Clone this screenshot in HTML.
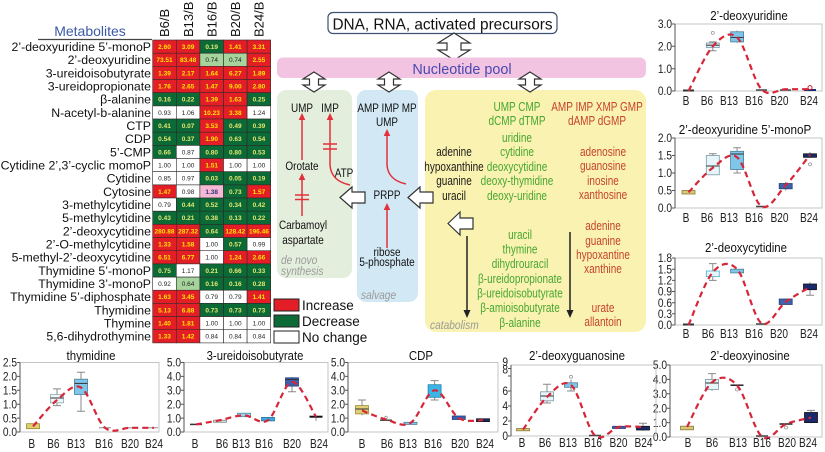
<!DOCTYPE html>
<html><head><meta charset="utf-8">
<style>
body{margin:0;background:#fff}
svg{display:block}
text{font-family:"Liberation Sans",Arial,sans-serif}
.lb{font-size:12.3px;text-anchor:end;fill:#111}
.ch{font-size:13px;fill:#111}
.cv{font-size:6.5px;font-weight:bold;text-anchor:middle}
.R{fill:#e41e26;stroke:#3a2a2a;stroke-width:.6}
.G{fill:#0b6a36;stroke:#2a2a2a;stroke-width:.6}
.L{fill:#a6d49c;stroke:#2a2a2a;stroke-width:.6}
.P{fill:#f6b9d4;stroke:#2a2a2a;stroke-width:.6}
.W{fill:#fff;stroke:#2a2a2a;stroke-width:.6}
.r{fill:#ffe600}.g{fill:#e6e870}.k{fill:#222;font-weight:normal}.p{fill:#3b2e80}
.fr{fill:none;stroke:#c4c4c4;stroke-width:1}
.ax{fill:none;stroke:#555;stroke-width:1}
.tk{font-size:12px;text-anchor:end;fill:#222}
.xl{font-size:13px;text-anchor:middle;fill:#222}
.tt{font-size:13px;text-anchor:middle;fill:#111}
.crv{fill:none;stroke:#d62638;stroke-width:2.2;stroke-dasharray:6 4}
.wk{stroke:#888;stroke-width:1;fill:none}
.bx{stroke-width:.8}
.md{stroke:#333;stroke-width:1}
.ds{stroke:#444;stroke-width:1.5}
.ou{fill:none;stroke:#999;stroke-width:.8}
.pt{font-size:12px;text-anchor:middle;fill:#111}
.yt{font-size:12.5px;text-anchor:middle}
.gr{fill:#46a733}.rd{fill:#c6432b}.bk{fill:#1a1a1a}
.it{font-size:12px;font-style:italic;fill:#9a9a9a}
.ra{stroke:#e2303c;stroke-width:1.5;fill:none}
.rh{fill:#e2303c}
.ba{fill:#fff;stroke:#333;stroke-width:1.2}
.lg{font-size:13.5px;fill:#111}
</style></head><body>
<svg width="825" height="452" viewBox="0 0 825 452" xmlns="http://www.w3.org/2000/svg">
<rect width="825" height="452" fill="#fff"/>

<!-- ========== HEATMAP ========== -->
<text x="90" y="36" font-size="14" text-anchor="middle" fill="#3a5aa5">Metabolites</text>
<line x1="38" y1="39.5" x2="152" y2="39.5" stroke="#444" stroke-width="1.2"/>
<text class="ch" transform="translate(169.2,37) rotate(-90)">B6/B</text>
<text class="ch" transform="translate(192.8,37) rotate(-90)">B13/B</text>
<text class="ch" transform="translate(216.4,37) rotate(-90)">B16/B</text>
<text class="ch" transform="translate(240,37) rotate(-90)">B20/B</text>
<text class="ch" transform="translate(263.6,37) rotate(-90)">B24/B</text>

<g transform="translate(0,40)"><text x="151" y="11" class="lb">2’-deoxyuridine 5’-monoP</text>
<rect x="152.7" width="23.6" height="13.2" class="R"/><rect x="176.3" width="23.6" height="13.2" class="R"/><rect x="199.9" width="23.6" height="13.2" class="G"/><rect x="223.5" width="23.6" height="13.2" class="R"/><rect x="247.1" width="23.6" height="13.2" class="R"/>
<text x="164.5" y="9" class="cv r">2.60</text><text x="188.1" y="9" class="cv r">3.09</text><text x="211.7" y="9" class="cv g">0.19</text><text x="235.3" y="9" class="cv r">1.41</text><text x="258.9" y="9" class="cv r">3.31</text></g>

<g transform="translate(0,53.2)"><text x="151" y="11" class="lb">2’-deoxyuridine</text>
<rect x="152.7" width="23.6" height="13.2" class="R"/><rect x="176.3" width="23.6" height="13.2" class="R"/><rect x="199.9" width="23.6" height="13.2" class="L"/><rect x="223.5" width="23.6" height="13.2" class="L"/><rect x="247.1" width="23.6" height="13.2" class="R"/>
<text x="164.5" y="9" class="cv r">73.51</text><text x="188.1" y="9" class="cv r">83.48</text><text x="211.7" y="9" class="cv k">0.74</text><text x="235.3" y="9" class="cv k">0.74</text><text x="258.9" y="9" class="cv r">2.55</text></g>

<g transform="translate(0,66.3)"><text x="151" y="11" class="lb">3-ureidoisobutyrate</text>
<rect x="152.7" width="23.6" height="13.2" class="R"/><rect x="176.3" width="23.6" height="13.2" class="R"/><rect x="199.9" width="23.6" height="13.2" class="R"/><rect x="223.5" width="23.6" height="13.2" class="R"/><rect x="247.1" width="23.6" height="13.2" class="R"/>
<text x="164.5" y="9" class="cv r">1.39</text><text x="188.1" y="9" class="cv r">2.17</text><text x="211.7" y="9" class="cv r">1.64</text><text x="235.3" y="9" class="cv r">6.27</text><text x="258.9" y="9" class="cv r">1.89</text></g>

<g transform="translate(0,79.5)"><text x="151" y="11" class="lb">3-ureidopropionate</text>
<rect x="152.7" width="23.6" height="13.2" class="R"/><rect x="176.3" width="23.6" height="13.2" class="R"/><rect x="199.9" width="23.6" height="13.2" class="R"/><rect x="223.5" width="23.6" height="13.2" class="R"/><rect x="247.1" width="23.6" height="13.2" class="R"/>
<text x="164.5" y="9" class="cv r">1.76</text><text x="188.1" y="9" class="cv r">2.65</text><text x="211.7" y="9" class="cv r">1.47</text><text x="235.3" y="9" class="cv r">9.00</text><text x="258.9" y="9" class="cv r">2.80</text></g>

<g transform="translate(0,92.7)"><text x="151" y="11" class="lb">β-alanine</text>
<rect x="152.7" width="23.6" height="13.2" class="G"/><rect x="176.3" width="23.6" height="13.2" class="G"/><rect x="199.9" width="23.6" height="13.2" class="R"/><rect x="223.5" width="23.6" height="13.2" class="R"/><rect x="247.1" width="23.6" height="13.2" class="G"/>
<text x="164.5" y="9" class="cv g">0.16</text><text x="188.1" y="9" class="cv g">0.22</text><text x="211.7" y="9" class="cv r">1.39</text><text x="235.3" y="9" class="cv r">1.63</text><text x="258.9" y="9" class="cv g">0.25</text></g>

<g transform="translate(0,105.9)"><text x="151" y="11" class="lb">N-acetyl-b-alanine</text>
<rect x="152.7" width="23.6" height="13.2" class="W"/><rect x="176.3" width="23.6" height="13.2" class="W"/><rect x="199.9" width="23.6" height="13.2" class="R"/><rect x="223.5" width="23.6" height="13.2" class="R"/><rect x="247.1" width="23.6" height="13.2" class="W"/>
<text x="164.5" y="9" class="cv k">0.93</text><text x="188.1" y="9" class="cv k">1.06</text><text x="211.7" y="9" class="cv r">10.23</text><text x="235.3" y="9" class="cv r">3.38</text><text x="258.9" y="9" class="cv k">1.24</text></g>

<g transform="translate(0,119)"><text x="151" y="11" class="lb">CTP</text>
<rect x="152.7" width="23.6" height="13.2" class="G"/><rect x="176.3" width="23.6" height="13.2" class="G"/><rect x="199.9" width="23.6" height="13.2" class="R"/><rect x="223.5" width="23.6" height="13.2" class="G"/><rect x="247.1" width="23.6" height="13.2" class="G"/>
<text x="164.5" y="9" class="cv g">0.41</text><text x="188.1" y="9" class="cv g">0.07</text><text x="211.7" y="9" class="cv r">3.53</text><text x="235.3" y="9" class="cv g">0.49</text><text x="258.9" y="9" class="cv g">0.39</text></g>

<g transform="translate(0,132.2)"><text x="151" y="11" class="lb">CDP</text>
<rect x="152.7" width="23.6" height="13.2" class="G"/><rect x="176.3" width="23.6" height="13.2" class="G"/><rect x="199.9" width="23.6" height="13.2" class="R"/><rect x="223.5" width="23.6" height="13.2" class="G"/><rect x="247.1" width="23.6" height="13.2" class="G"/>
<text x="164.5" y="9" class="cv g">0.54</text><text x="188.1" y="9" class="cv g">0.37</text><text x="211.7" y="9" class="cv r">1.90</text><text x="235.3" y="9" class="cv g">0.63</text><text x="258.9" y="9" class="cv g">0.54</text></g>

<g transform="translate(0,145.4)"><text x="151" y="11" class="lb">5’-CMP</text>
<rect x="152.7" width="23.6" height="13.2" class="G"/><rect x="176.3" width="23.6" height="13.2" class="W"/><rect x="199.9" width="23.6" height="13.2" class="G"/><rect x="223.5" width="23.6" height="13.2" class="G"/><rect x="247.1" width="23.6" height="13.2" class="G"/>
<text x="164.5" y="9" class="cv g">0.66</text><text x="188.1" y="9" class="cv k">0.87</text><text x="211.7" y="9" class="cv g">0.80</text><text x="235.3" y="9" class="cv g">0.80</text><text x="258.9" y="9" class="cv g">0.53</text></g>

<g transform="translate(0,158.5)"><text x="151" y="11" class="lb">Cytidine 2’,3’-cyclic momoP</text>
<rect x="152.7" width="23.6" height="13.2" class="W"/><rect x="176.3" width="23.6" height="13.2" class="W"/><rect x="199.9" width="23.6" height="13.2" class="R"/><rect x="223.5" width="23.6" height="13.2" class="W"/><rect x="247.1" width="23.6" height="13.2" class="W"/>
<text x="164.5" y="9" class="cv k">1.00</text><text x="188.1" y="9" class="cv k">1.00</text><text x="211.7" y="9" class="cv r">1.51</text><text x="235.3" y="9" class="cv k">1.00</text><text x="258.9" y="9" class="cv k">1.00</text></g>

<g transform="translate(0,171.7)"><text x="151" y="11" class="lb">Cytidine</text>
<rect x="152.7" width="23.6" height="13.2" class="W"/><rect x="176.3" width="23.6" height="13.2" class="W"/><rect x="199.9" width="23.6" height="13.2" class="G"/><rect x="223.5" width="23.6" height="13.2" class="G"/><rect x="247.1" width="23.6" height="13.2" class="G"/>
<text x="164.5" y="9" class="cv k">0.85</text><text x="188.1" y="9" class="cv k">0.97</text><text x="211.7" y="9" class="cv g">0.03</text><text x="235.3" y="9" class="cv g">0.05</text><text x="258.9" y="9" class="cv g">0.19</text></g>

<g transform="translate(0,184.9)"><text x="151" y="11" class="lb">Cytosine</text>
<rect x="152.7" width="23.6" height="13.2" class="R"/><rect x="176.3" width="23.6" height="13.2" class="W"/><rect x="199.9" width="23.6" height="13.2" class="P"/><rect x="223.5" width="23.6" height="13.2" class="G"/><rect x="247.1" width="23.6" height="13.2" class="R"/>
<text x="164.5" y="9" class="cv r">1.47</text><text x="188.1" y="9" class="cv k">0.98</text><text x="211.7" y="9" class="cv p">1.38</text><text x="235.3" y="9" class="cv g">0.73</text><text x="258.9" y="9" class="cv r">1.57</text></g>

<g transform="translate(0,198)"><text x="151" y="11" class="lb">3-methylcytidine</text>
<rect x="152.7" width="23.6" height="13.2" class="W"/><rect x="176.3" width="23.6" height="13.2" class="G"/><rect x="199.9" width="23.6" height="13.2" class="G"/><rect x="223.5" width="23.6" height="13.2" class="G"/><rect x="247.1" width="23.6" height="13.2" class="G"/>
<text x="164.5" y="9" class="cv k">0.79</text><text x="188.1" y="9" class="cv g">0.44</text><text x="211.7" y="9" class="cv g">0.52</text><text x="235.3" y="9" class="cv g">0.34</text><text x="258.9" y="9" class="cv g">0.42</text></g>

<g transform="translate(0,211.2)"><text x="151" y="11" class="lb">5-methylcytidine</text>
<rect x="152.7" width="23.6" height="13.2" class="G"/><rect x="176.3" width="23.6" height="13.2" class="G"/><rect x="199.9" width="23.6" height="13.2" class="G"/><rect x="223.5" width="23.6" height="13.2" class="G"/><rect x="247.1" width="23.6" height="13.2" class="G"/>
<text x="164.5" y="9" class="cv g">0.43</text><text x="188.1" y="9" class="cv g">0.21</text><text x="211.7" y="9" class="cv g">0.38</text><text x="235.3" y="9" class="cv g">0.13</text><text x="258.9" y="9" class="cv g">0.22</text></g>

<g transform="translate(0,224.4)"><text x="151" y="11" class="lb">2’-deoxycytidine</text>
<rect x="152.7" width="23.6" height="13.2" class="R"/><rect x="176.3" width="23.6" height="13.2" class="R"/><rect x="199.9" width="23.6" height="13.2" class="G"/><rect x="223.5" width="23.6" height="13.2" class="R"/><rect x="247.1" width="23.6" height="13.2" class="R"/>
<text x="164.5" y="9" class="cv r">280.88</text><text x="188.1" y="9" class="cv r">287.32</text><text x="211.7" y="9" class="cv g">0.64</text><text x="235.3" y="9" class="cv r">128.42</text><text x="258.9" y="9" class="cv r">196.46</text></g>

<g transform="translate(0,237.6)"><text x="151" y="11" class="lb">2’-O-methylcytidine</text>
<rect x="152.7" width="23.6" height="13.2" class="R"/><rect x="176.3" width="23.6" height="13.2" class="R"/><rect x="199.9" width="23.6" height="13.2" class="W"/><rect x="223.5" width="23.6" height="13.2" class="G"/><rect x="247.1" width="23.6" height="13.2" class="W"/>
<text x="164.5" y="9" class="cv r">1.33</text><text x="188.1" y="9" class="cv r">1.58</text><text x="211.7" y="9" class="cv k">1.00</text><text x="235.3" y="9" class="cv g">0.57</text><text x="258.9" y="9" class="cv k">0.99</text></g>

<g transform="translate(0,250.7)"><text x="151" y="11" class="lb">5-methyl-2’-deoxycytidine</text>
<rect x="152.7" width="23.6" height="13.2" class="R"/><rect x="176.3" width="23.6" height="13.2" class="R"/><rect x="199.9" width="23.6" height="13.2" class="W"/><rect x="223.5" width="23.6" height="13.2" class="R"/><rect x="247.1" width="23.6" height="13.2" class="R"/>
<text x="164.5" y="9" class="cv r">6.51</text><text x="188.1" y="9" class="cv r">6.77</text><text x="211.7" y="9" class="cv k">1.00</text><text x="235.3" y="9" class="cv r">1.24</text><text x="258.9" y="9" class="cv r">2.66</text></g>

<g transform="translate(0,263.9)"><text x="151" y="11" class="lb">Thymidine 5’-monoP</text>
<rect x="152.7" width="23.6" height="13.2" class="G"/><rect x="176.3" width="23.6" height="13.2" class="W"/><rect x="199.9" width="23.6" height="13.2" class="G"/><rect x="223.5" width="23.6" height="13.2" class="G"/><rect x="247.1" width="23.6" height="13.2" class="G"/>
<text x="164.5" y="9" class="cv g">0.75</text><text x="188.1" y="9" class="cv k">1.17</text><text x="211.7" y="9" class="cv g">0.21</text><text x="235.3" y="9" class="cv g">0.66</text><text x="258.9" y="9" class="cv g">0.33</text></g>

<g transform="translate(0,277.1)"><text x="151" y="11" class="lb">Thymidine 3’-monoP</text>
<rect x="152.7" width="23.6" height="13.2" class="W"/><rect x="176.3" width="23.6" height="13.2" class="L"/><rect x="199.9" width="23.6" height="13.2" class="G"/><rect x="223.5" width="23.6" height="13.2" class="G"/><rect x="247.1" width="23.6" height="13.2" class="G"/>
<text x="164.5" y="9" class="cv k">0.92</text><text x="188.1" y="9" class="cv k">0.64</text><text x="211.7" y="9" class="cv g">0.16</text><text x="235.3" y="9" class="cv g">0.16</text><text x="258.9" y="9" class="cv g">0.28</text></g>

<g transform="translate(0,290.2)"><text x="151" y="11" class="lb">Thymidine 5’-diphosphate</text>
<rect x="152.7" width="23.6" height="13.2" class="R"/><rect x="176.3" width="23.6" height="13.2" class="R"/><rect x="199.9" width="23.6" height="13.2" class="W"/><rect x="223.5" width="23.6" height="13.2" class="W"/><rect x="247.1" width="23.6" height="13.2" class="R"/>
<text x="164.5" y="9" class="cv r">1.63</text><text x="188.1" y="9" class="cv r">3.45</text><text x="211.7" y="9" class="cv k">0.79</text><text x="235.3" y="9" class="cv k">0.79</text><text x="258.9" y="9" class="cv r">1.41</text></g>

<g transform="translate(0,303.4)"><text x="151" y="11" class="lb">Thymidine</text>
<rect x="152.7" width="23.6" height="13.2" class="R"/><rect x="176.3" width="23.6" height="13.2" class="R"/><rect x="199.9" width="23.6" height="13.2" class="G"/><rect x="223.5" width="23.6" height="13.2" class="G"/><rect x="247.1" width="23.6" height="13.2" class="G"/>
<text x="164.5" y="9" class="cv r">5.13</text><text x="188.1" y="9" class="cv r">6.88</text><text x="211.7" y="9" class="cv g">0.73</text><text x="235.3" y="9" class="cv g">0.73</text><text x="258.9" y="9" class="cv g">0.73</text></g>

<g transform="translate(0,316.6)"><text x="151" y="11" class="lb">Thymine</text>
<rect x="152.7" width="23.6" height="13.2" class="R"/><rect x="176.3" width="23.6" height="13.2" class="R"/><rect x="199.9" width="23.6" height="13.2" class="W"/><rect x="223.5" width="23.6" height="13.2" class="W"/><rect x="247.1" width="23.6" height="13.2" class="W"/>
<text x="164.5" y="9" class="cv r">1.40</text><text x="188.1" y="9" class="cv r">1.81</text><text x="211.7" y="9" class="cv k">1.00</text><text x="235.3" y="9" class="cv k">1.00</text><text x="258.9" y="9" class="cv k">1.00</text></g>

<g transform="translate(0,329.7)"><text x="151" y="11" class="lb">5,6-dihydrothymine</text>
<rect x="152.7" width="23.6" height="13.2" class="R"/><rect x="176.3" width="23.6" height="13.2" class="R"/><rect x="199.9" width="23.6" height="13.2" class="W"/><rect x="223.5" width="23.6" height="13.2" class="W"/><rect x="247.1" width="23.6" height="13.2" class="W"/>
<text x="164.5" y="9" class="cv r">1.33</text><text x="188.1" y="9" class="cv r">1.42</text><text x="211.7" y="9" class="cv k">0.84</text><text x="235.3" y="9" class="cv k">0.84</text><text x="258.9" y="9" class="cv k">0.84</text></g>

<!-- legend -->
<rect x="274" y="299" width="25" height="12" fill="#e41e26" stroke="#222" stroke-width="1"/>
<rect x="274" y="315" width="25" height="12" fill="#0b6a36" stroke="#222" stroke-width="1"/>
<rect x="274" y="331" width="25" height="12" fill="#fff" stroke="#222" stroke-width="1"/>
<text x="302" y="310" class="lg">Increase</text>
<text x="302" y="326" class="lg">Decrease</text>
<text x="302" y="342" class="lg">No change</text>

<!-- ========== PATHWAY DIAGRAM ========== -->
<rect x="328" y="12.5" width="229" height="21" rx="5" fill="#fff" stroke="#3c5070" stroke-width="1.2"/>
<text transform="translate(442.5,29.5) scale(.96,1)" font-size="16" text-anchor="middle" fill="#111">DNA, RNA, activated precursors</text>
<path class="ba" d="M454,33 L470,43 L461,43 L461,50 L470,50 L454,60 L438,50 L447,50 L447,43 L438,43 Z"/>
<rect x="277" y="57.5" width="369" height="20.5" rx="6" fill="#f2c4e2"/>
<text transform="translate(462,74) scale(.96,1)" font-size="15" text-anchor="middle" fill="#4a48b0">Nucleotide pool</text>

<rect x="277" y="90" width="75" height="188" rx="9" fill="#e4eedd"/>
<rect x="357" y="90" width="61" height="212" rx="9" fill="#d2e9f5"/>
<rect x="425" y="90" width="221" height="242" rx="11" fill="#faf2b0"/>

<path class="ba" d="M314,72 L325,79 L318.5,79 L318.5,85 L325,85 L314,92 L303,85 L309.5,85 L309.5,79 L303,79Z"/>
<path class="ba" d="M389,72 L400,79 L393.5,79 L393.5,85 L400,85 L389,92 L378,85 L384.5,85 L384.5,79 L378,79Z"/>
<path class="ba" d="M530,72 L541,79 L534.5,79 L534.5,85 L541,85 L530,92 L519,85 L525.5,85 L525.5,79 L519,79Z"/>

<!-- green panel -->
<text class="pt" transform="translate(302,112) scale(.83,1)">UMP</text>
<text class="pt" transform="translate(330,112) scale(.83,1)">IMP</text>
<text class="pt" transform="translate(302,170) scale(.83,1)">Orotate</text>
<text class="pt" transform="translate(344,177) scale(.83,1)">ATP</text>
<text class="pt" transform="translate(303,229) scale(.83,1)">Carbamoyl</text>
<text class="pt" transform="translate(303,244) scale(.83,1)">aspartate</text>
<text class="it" transform="translate(281,264) scale(.85,1)">de novo</text>
<text class="it" transform="translate(281,275) scale(.85,1)">synthesis</text>
<line class="ra" x1="302" y1="160" x2="302" y2="118"/><polygon class="rh" points="302,113 298.7,120 305.3,120"/>
<line class="ra" x1="302" y1="216" x2="302" y2="178"/><polygon class="rh" points="302,173 298.7,180 305.3,180"/>
<path class="ra" d="M295,195H309M295,199.5H309"/>
<path class="ra" d="M350,185 Q331,181 330,165 L330,118"/><polygon class="rh" points="330,113 326.7,120 333.3,120"/>
<path class="ra" d="M323,144H337M323,149H337"/>

<!-- blue panel -->
<text class="pt" transform="translate(387,112) scale(.83,1)">AMP IMP MP</text>
<text class="pt" transform="translate(387,126) scale(.83,1)">UMP</text>
<text class="pt" transform="translate(387,199) scale(.83,1)">PRPP</text>
<text class="pt" transform="translate(387,256) scale(.83,1)">ribose</text>
<text class="pt" transform="translate(387,266) scale(.83,1)">5-phosphate</text>
<text class="it" transform="translate(361,299) scale(.85,1)">salvage</text>
<path class="ra" d="M406,184 Q388,180 387,165 L387,134"/><polygon class="rh" points="387,129 383.7,136 390.3,136"/>
<line class="ra" x1="387" y1="248" x2="387" y2="208"/><polygon class="rh" points="387,203 383.7,210 390.3,210"/>

<path class="ba" d="M340,197.5 L352,187 L352,192 L365,192 L365,203 L352,203 L352,208 Z"/>
<path class="ba" d="M408,197.5 L420,187 L420,192 L433,192 L433,203 L420,203 L420,208 Z"/>
<path class="ba" d="M448,223.5 L460,212 L460,218 L473,218 L473,229 L460,229 L460,235 Z"/>

<!-- yellow panel -->
<g class="yt">
<text class="gr" transform="translate(517,111) scale(.8,1)">UMP CMP</text>
<text class="gr" transform="translate(517,125) scale(.8,1)">dCMP dTMP</text>
<text class="rd" transform="translate(597,111) scale(.8,1)">AMP IMP XMP GMP</text>
<text class="rd" transform="translate(597,125) scale(.8,1)">dAMP dGMP</text>
<text class="gr" transform="translate(517,142) scale(.8,1)">uridine</text>
<text class="gr" transform="translate(517,156) scale(.8,1)">cytidine</text>
<text class="gr" transform="translate(517,171) scale(.8,1)">deoxycytidine</text>
<text class="gr" transform="translate(517,185) scale(.8,1)">deoxy-thymidine</text>
<text class="gr" transform="translate(517,200) scale(.8,1)">deoxy-uridine</text>
<text class="bk" transform="translate(454,156) scale(.8,1)">adenine</text>
<text class="bk" transform="translate(454,171) scale(.8,1)">hypoxanthine</text>
<text class="bk" transform="translate(454,185) scale(.8,1)">guanine</text>
<text class="bk" transform="translate(454,200) scale(.8,1)">uracil</text>
<text class="rd" transform="translate(603,156) scale(.8,1)">adenosine</text>
<text class="rd" transform="translate(603,170) scale(.8,1)">guanosine</text>
<text class="rd" transform="translate(603,185) scale(.8,1)">inosine</text>
<text class="rd" transform="translate(603,199) scale(.8,1)">xanthosine</text>
<text class="gr" transform="translate(520,239) scale(.8,1)">uracil</text>
<text class="gr" transform="translate(520,253.5) scale(.8,1)">thymine</text>
<text class="gr" transform="translate(520,268) scale(.8,1)">dihydrouracil</text>
<text class="gr" transform="translate(520,283) scale(.8,1)">β-ureidopropionate</text>
<text class="gr" transform="translate(520,297.5) scale(.8,1)">β-ureidoisobutyrate</text>
<text class="gr" transform="translate(520,312) scale(.8,1)">β-amioisobutyrate</text>
<text class="gr" transform="translate(520,327) scale(.8,1)">β-alanine</text>
<text class="rd" transform="translate(603,230) scale(.8,1)">adenine</text>
<text class="rd" transform="translate(603,245) scale(.8,1)">guanine</text>
<text class="rd" transform="translate(603,259) scale(.8,1)">hypoxantine</text>
<text class="rd" transform="translate(603,273) scale(.8,1)">xanthine</text>
<text class="rd" transform="translate(603,312) scale(.8,1)">urate</text>
<text class="rd" transform="translate(603,326) scale(.8,1)">allantoin</text>
</g>
<text class="it" transform="translate(430,329) scale(.85,1)">catabolism</text>
<line x1="467" y1="236" x2="467" y2="312" stroke="#222" stroke-width="1.5"/><polygon points="467,318 463.5,310 470.5,310" fill="#222"/>
<line x1="570" y1="232" x2="570" y2="312" stroke="#222" stroke-width="1.5"/><polygon points="570,318 566.5,310 573.5,310" fill="#222"/>

<!-- ========== PLOT R1: 2'-deoxyuridine ========== -->
<text class="tt" transform="translate(749,20) scale(.88,1)">2’-deoxyuridine</text>
<rect x="675" y="24" width="147" height="67" class="fr"/>
<path class="ax" d="M675,24V91M672,24h3M672,46.3h3M672,68.7h3M672,91h3"/>
<text class="tk" transform="translate(672,28.2) scale(.85,1)">3.0</text>
<text class="tk" transform="translate(672,50.5) scale(.85,1)">2.0</text>
<text class="tk" transform="translate(672,72.9) scale(.85,1)">1.0</text>
<text class="tk" transform="translate(672,95.2) scale(.85,1)">0.0</text>
<line x1="683" y1="90.5" x2="694" y2="90.5" stroke="#333" stroke-width="2"/>
<path class="wk" d="M712.8,41.9V50.8M709,41.9h7.6M709,50.8h7.6"/>
<rect class="bx" x="706.3" y="43" width="13" height="4.5" fill="#d9eef6" stroke="#7a9aa8"/>
<line class="md" x1="706.3" y1="45.2" x2="719.3" y2="45.2"/>
<circle class="ou" cx="712.8" cy="32.9" r="1.5"/>
<path class="wk" d="M737.1,30.5V42.8"/>
<rect class="bx" x="730.6" y="31.8" width="13" height="10.1" fill="#7fc7ea" stroke="#4a7f9a"/>
<line class="md" x1="730.6" y1="37.4" x2="743.6" y2="37.4"/>
<line class="ds" x1="756" y1="90" x2="767" y2="90"/>
<line class="ds" x1="780" y1="90" x2="791" y2="90"/>
<rect x="804" y="89" width="12" height="2" fill="#1b2a6b"/>
<circle cx="810" cy="87.6" r="2" fill="none" stroke="#d62638" stroke-width="1"/>
<polyline class="crv" points="688.5,91 712.8,46.3 737.1,37.4 761.4,89.2 785.7,89.2 810,89.2"/>
<g class="xl">
<text transform="translate(686,105) scale(.78,1)">B</text>
<text transform="translate(707,105) scale(.78,1)">B6</text>
<text transform="translate(729,105) scale(.78,1)">B13</text>
<text transform="translate(754,105) scale(.78,1)">B16</text>
<text transform="translate(779.5,105) scale(.78,1)">B20</text>
<text transform="translate(809,105) scale(.78,1)">B24</text>
</g>

<!-- ========== PLOT R2: 2'-deoxyuridine 5'-monoP ========== -->
<text class="tt" transform="translate(745,134) scale(.9,1)">2’-deoxyuridine 5’-monoP</text>
<rect x="675" y="138" width="147" height="70" class="fr"/>
<path class="ax" d="M675,138V208M672,138h3M672,155.5h3M672,173h3M672,190.5h3M672,208h3"/>
<text class="tk" transform="translate(672,142.2) scale(.85,1)">2.0</text>
<text class="tk" transform="translate(672,159.7) scale(.85,1)">1.5</text>
<text class="tk" transform="translate(672,177.2) scale(.85,1)">1.0</text>
<text class="tk" transform="translate(672,194.7) scale(.85,1)">0.5</text>
<text class="tk" transform="translate(672,212.2) scale(.85,1)">0.0</text>
<rect class="bx" x="682" y="190.5" width="13" height="3.5" fill="#d9c77a" stroke="#8a7a30"/>
<path class="wk" d="M712.8,153.8V174.8M709,153.8h7.6"/>
<rect class="bx" x="706.3" y="155.5" width="13" height="19.3" fill="#e6f5f9" stroke="#7a9aa8"/>
<line class="md" x1="706.3" y1="166" x2="719.3" y2="166"/>
<path class="wk" d="M737.1,147.8V173M733.3,147.8h7.6M733.3,173h7.6"/>
<rect class="bx" x="730.6" y="151.3" width="13" height="18.2" fill="#7fc7ea" stroke="#4a7f9a"/>
<line class="md" x1="730.6" y1="154" x2="743.6" y2="154"/>
<line class="ds" x1="756" y1="206.5" x2="767" y2="206.5"/>
<path class="wk" d="M785.7,181.8V190.5"/>
<rect class="bx" x="779.2" y="183.5" width="13" height="5.3" fill="#3d62b0" stroke="#2a4070"/>
<path class="wk" d="M810,152V158"/>
<rect class="bx" x="803.5" y="153.8" width="13" height="3.5" fill="#1b2a6b" stroke="#111"/>
<circle class="ou" cx="810" cy="164.3" r="1.5"/>
<polyline class="crv" points="688.5,192.3 712.8,167.8 737.1,157.3 761.4,206.3 785.7,185.3 810,154.8"/>
<g class="xl">
<text transform="translate(686,222) scale(.78,1)">B</text>
<text transform="translate(707,222) scale(.78,1)">B6</text>
<text transform="translate(729,222) scale(.78,1)">B13</text>
<text transform="translate(754,222) scale(.78,1)">B16</text>
<text transform="translate(779.5,222) scale(.78,1)">B20</text>
<text transform="translate(809,222) scale(.78,1)">B24</text>
</g>

<!-- ========== PLOT R3: 2'-deoxycytidine ========== -->
<text class="tt" transform="translate(746,252) scale(.88,1)">2’-deoxycytidine</text>
<rect x="675" y="258" width="147" height="67" class="fr"/>
<path class="ax" d="M675,258V325M672,258h3M672,269.2h3M672,280.4h3M672,291.5h3M672,302.7h3M672,313.8h3M672,325h3"/>
<text class="tk" transform="translate(672,262.2) scale(.85,1)">1.8</text>
<text class="tk" transform="translate(672,273.4) scale(.85,1)">1.5</text>
<text class="tk" transform="translate(672,284.6) scale(.85,1)">1.2</text>
<text class="tk" transform="translate(672,295.7) scale(.85,1)">0.9</text>
<text class="tk" transform="translate(672,306.9) scale(.85,1)">0.6</text>
<text class="tk" transform="translate(672,318) scale(.85,1)">0.3</text>
<text class="tk" transform="translate(672,329.2) scale(.85,1)">0.0</text>
<line x1="683" y1="324.5" x2="694" y2="324.5" stroke="#333" stroke-width="2"/>
<path class="wk" d="M712.8,263.6V280.4M709,263.6h7.6M709,280.4h7.6"/>
<rect class="bx" x="706.3" y="271" width="13" height="5.6" fill="#e6f5f9" stroke="#4ab0d0"/>
<rect class="bx" x="730.6" y="269.2" width="13" height="3.7" fill="#7fc7ea" stroke="#4a7f9a"/>
<line class="ds" x1="756" y1="324" x2="767" y2="324"/>
<rect class="bx" x="779.2" y="299" width="13" height="5.5" fill="#3d62b0" stroke="#2a4070"/>
<path class="wk" d="M810,282.2V295.2M806,295.2h8"/>
<rect class="bx" x="803.5" y="284" width="13" height="5.7" fill="#1b2a6b" stroke="#111"/>
<polyline class="crv" points="688.5,325 712.8,272.2 737.1,269.2 761.4,323.1 785.7,301.9 810,287.1"/>
<g class="xl">
<text transform="translate(686,338) scale(.78,1)">B</text>
<text transform="translate(708,338) scale(.78,1)">B6</text>
<text transform="translate(729,338) scale(.78,1)">B13</text>
<text transform="translate(754,338) scale(.78,1)">B16</text>
<text transform="translate(779,338) scale(.78,1)">B20</text>
<text transform="translate(809,338) scale(.78,1)">B24</text>
</g>

<!-- ========== PLOT R4: 2'-deoxyinosine ========== -->
<text class="tt" transform="translate(750,360) scale(.88,1)">2’-deoxyinosine</text>
<rect x="670" y="365" width="152" height="72" class="fr"/>
<path class="ax" d="M670,365V437M667,365h3M667,379.4h3M667,393.8h3M667,408.2h3M667,422.6h3M667,437h3"/>
<text class="tk" transform="translate(667,369.2) scale(.85,1)">5.0</text>
<text class="tk" transform="translate(667,383.6) scale(.85,1)">4.0</text>
<text class="tk" transform="translate(667,398) scale(.85,1)">3.0</text>
<text class="tk" transform="translate(667,412.4) scale(.85,1)">2.0</text>
<text class="tk" transform="translate(667,426.8) scale(.85,1)">1.0</text>
<text class="tk" transform="translate(667,441.2) scale(.85,1)">0.0</text>
<rect class="bx" x="680.5" y="426.2" width="13" height="3.6" fill="#d9c77a" stroke="#8a7a30"/>
<path class="wk" d="M712,373.6V390.9M708,373.6h8"/>
<rect class="bx" x="705.5" y="379.4" width="13" height="10.1" fill="#e6f5f9" stroke="#7a9aa8"/>
<line class="md" x1="705.5" y1="383" x2="718.5" y2="383"/>
<line x1="730.5" y1="385.2" x2="743.5" y2="385.2" stroke="#222" stroke-width="1.5"/>
<circle class="ou" cx="737" cy="389.5" r="1.5"/>
<line class="ds" x1="756" y1="436" x2="768" y2="436"/>
<line x1="779.5" y1="424" x2="792.5" y2="424" stroke="#222" stroke-width="1.5"/>
<circle class="ou" cx="786" cy="427.5" r="1.5"/>
<path class="wk" d="M811,410.4V423.3M807,410.4h8"/>
<rect class="bx" x="804.5" y="412.5" width="13" height="10.1" fill="#1b2a6b" stroke="#111"/>
<polyline class="crv" points="687,426.9 712,382.3 737,385.2 762,436.7 786,424 811,417.6"/>
<g class="xl">
<text transform="translate(688,447) scale(.78,1)">B</text>
<text transform="translate(712,447) scale(.78,1)">B6</text>
<text transform="translate(738,447) scale(.78,1)">B13</text>
<text transform="translate(762,447) scale(.78,1)">B16</text>
<text transform="translate(787,447) scale(.78,1)">B20</text>
<text transform="translate(808,447) scale(.78,1)">B24</text>
</g>

<!-- ========== PLOT P1: thymidine ========== -->
<text class="tt" transform="translate(91,360) scale(.88,1)">thymidine</text>
<rect x="20" y="362.5" width="139" height="69.5" class="fr"/>
<path class="ax" d="M20,362.5V432M17,362.5h3M17,376.4h3M17,390.3h3M17,404.2h3M17,418.1h3M17,432h3"/>
<text class="tk" transform="translate(17,366.7) scale(.85,1)">2.5</text>
<text class="tk" transform="translate(17,380.6) scale(.85,1)">2.0</text>
<text class="tk" transform="translate(17,394.5) scale(.85,1)">1.5</text>
<text class="tk" transform="translate(17,408.4) scale(.85,1)">1.0</text>
<text class="tk" transform="translate(17,422.3) scale(.85,1)">0.5</text>
<text class="tk" transform="translate(17,436.2) scale(.85,1)">0.0</text>
<rect class="bx" x="26.5" y="423.7" width="13" height="5" fill="#e0cf6e" stroke="#9a8a30"/>
<path class="wk" d="M57,388.9V405.6M53,388.9h8M53,405.6h8"/>
<rect class="bx" x="50.5" y="394.5" width="13" height="8.3" fill="#eef6f8" stroke="#8aa"/>
<line class="md" x1="50.5" y1="398" x2="63.5" y2="398"/>
<path class="wk" d="M81,372.2V411.2M77,372.2h8M77,411.2h8"/>
<rect class="bx" x="74.5" y="379.2" width="13" height="15.3" fill="#7fc7ea" stroke="#4a7f9a"/>
<line class="md" x1="74.5" y1="383.4" x2="87.5" y2="383.4"/>
<line class="wk" x1="99" y1="427.8" x2="111" y2="427.8"/>
<line class="wk" x1="124" y1="427.8" x2="136" y2="427.8"/>
<line class="wk" x1="148" y1="427.8" x2="158" y2="427.8"/>
<polyline class="crv" points="33,426.4 57,400 81,387.5 105,427.8 130,427.8 154,427.8"/>
<g class="xl">
<text transform="translate(31.7,448) scale(.78,1)">B</text>
<text transform="translate(53.3,448) scale(.78,1)">B6</text>
<text transform="translate(76,448) scale(.78,1)">B13</text>
<text transform="translate(104,448) scale(.78,1)">B16</text>
<text transform="translate(130,448) scale(.78,1)">B20</text>
<text transform="translate(154,448) scale(.78,1)">B24</text>
</g>

<!-- ========== PLOT P2: 3-ureidoisobutyrate ========== -->
<text class="tt" transform="translate(255,360) scale(.87,1)">3-ureidoisobutyrate</text>
<rect x="184" y="362.5" width="144" height="69.5" class="fr"/>
<path class="ax" d="M184,362.5V432M181,362.5h3M181,376.4h3M181,390.3h3M181,404.2h3M181,418.1h3M181,432h3"/>
<text class="tk" transform="translate(181,366.7) scale(.85,1)">5.0</text>
<text class="tk" transform="translate(181,380.6) scale(.85,1)">4.0</text>
<text class="tk" transform="translate(181,394.5) scale(.85,1)">3.0</text>
<text class="tk" transform="translate(181,408.4) scale(.85,1)">2.0</text>
<text class="tk" transform="translate(181,422.3) scale(.85,1)">1.0</text>
<text class="tk" transform="translate(181,436.2) scale(.85,1)">0.0</text>
<line x1="190" y1="424.4" x2="202" y2="424.4" stroke="#333" stroke-width="1.5"/>
<rect class="bx" x="213.5" y="420.2" width="13" height="2.1" fill="#cfe0e4" stroke="#888"/>
<rect class="bx" x="237.5" y="413.2" width="13" height="3.5" fill="#9ad4ee" stroke="#4a8aa8"/>
<rect class="bx" x="261.5" y="417.4" width="13" height="3.5" fill="#3aa8dc" stroke="#2a7aa0"/>
<path class="wk" d="M292,377V391.7M288,391.7h8"/>
<rect class="bx" x="285.5" y="377.8" width="13" height="8.3" fill="#3d5fae" stroke="#253f80"/>
<line class="md" x1="285.5" y1="379.5" x2="298.5" y2="379.5"/>
<path class="wk" d="M316,416.7V420.9"/>
<line x1="309.5" y1="416.7" x2="322.5" y2="416.7" stroke="#111" stroke-width="2"/>
<polyline class="crv" points="196,424.4 220,420.2 244,415.3 268,420.2 292,382 316,416.7"/>
<g class="xl">
<text transform="translate(195,448) scale(.78,1)">B</text>
<text transform="translate(222,448) scale(.78,1)">B6</text>
<text transform="translate(241,448) scale(.78,1)">B13</text>
<text transform="translate(264,448) scale(.78,1)">B16</text>
<text transform="translate(292,448) scale(.78,1)">B20</text>
<text transform="translate(319,448) scale(.78,1)">B24</text>
</g>

<!-- ========== PLOT P3: CDP ========== -->
<text class="tt" transform="translate(421,360) scale(.88,1)">CDP</text>
<rect x="348" y="362.5" width="150" height="69.5" class="fr"/>
<path class="ax" d="M348,362.5V432M345,362.5h3M345,376.4h3M345,390.3h3M345,404.2h3M345,418.1h3M345,432h3"/>
<text class="tk" transform="translate(345,366.7) scale(.85,1)">5.0</text>
<text class="tk" transform="translate(345,380.6) scale(.85,1)">4.0</text>
<text class="tk" transform="translate(345,394.5) scale(.85,1)">3.0</text>
<text class="tk" transform="translate(345,408.4) scale(.85,1)">2.0</text>
<text class="tk" transform="translate(345,422.3) scale(.85,1)">1.0</text>
<text class="tk" transform="translate(345,436.2) scale(.85,1)">0.0</text>
<path class="wk" d="M362,400V415.3M358,400h8"/>
<rect class="bx" x="355.5" y="405.6" width="13" height="8.3" fill="#e2cf7a" stroke="#9a8a30"/>
<line class="md" x1="355.5" y1="409" x2="368.5" y2="409"/>
<line class="ds" x1="380" y1="420.2" x2="392" y2="420.2"/>
<circle class="ou" cx="386" cy="417.5" r="1.3"/>
<rect class="bx" x="404" y="422.3" width="13" height="2.1" fill="#7fc7ea" stroke="#4a7f9a"/>
<path class="wk" d="M434.6,380.6V400M430.6,380.6h8M430.6,400h8"/>
<rect class="bx" x="428.1" y="384.7" width="13" height="12.6" fill="#3ab5e5" stroke="#2a80a8"/>
<rect class="bx" x="452.3" y="416" width="13" height="3.5" fill="#3d5fae" stroke="#253f80"/>
<rect class="bx" x="476.5" y="418.8" width="13" height="2.8" fill="#1b2a6b" stroke="#111"/>
<polyline class="crv" points="362,410.5 386,419.5 410.5,423 434.6,390.3 458.8,418.1 483,420.2"/>
<g class="xl">
<text transform="translate(362,448) scale(.78,1)">B</text>
<text transform="translate(387,448) scale(.78,1)">B6</text>
<text transform="translate(408,448) scale(.78,1)">B13</text>
<text transform="translate(433,448) scale(.78,1)">B16</text>
<text transform="translate(460,448) scale(.78,1)">B20</text>
<text transform="translate(485,448) scale(.78,1)">B24</text>
</g>

<!-- ========== PLOT P4: 2'-deoxyguanosine ========== -->
<text class="tt" transform="translate(577,360) scale(.88,1)">2’-deoxyguanosine</text>
<rect x="511" y="365" width="145" height="71" class="fr"/>
<path class="ax" d="M511,365V436M508,368.5h3M508,376h3M508,391h3M508,406h3M508,421h3M508,436h3"/>
<text class="tk" transform="translate(508,366.2) scale(.85,1)">9</text>
<text class="tk" transform="translate(508,373.5) scale(.85,1)">8</text>
<text class="tk" transform="translate(508,395.2) scale(.85,1)">6</text>
<text class="tk" transform="translate(508,410.2) scale(.85,1)">4</text>
<text class="tk" transform="translate(508,425.2) scale(.85,1)">2</text>
<text class="tk" transform="translate(508,440.2) scale(.85,1)">0</text>
<rect class="bx" x="516.5" y="428.5" width="13" height="2.3" fill="#d9c77a" stroke="#8a7a30"/>
<path class="wk" d="M547,384.3V403M543,384.3h8M543,403h8"/>
<rect class="bx" x="540.5" y="391.8" width="13" height="9" fill="#e6f5f9" stroke="#7a9aa8"/>
<line class="md" x1="540.5" y1="396" x2="553.5" y2="396"/>
<path class="wk" d="M571,379.8V391M567,391h8"/>
<rect class="bx" x="564.5" y="382.8" width="13" height="4.5" fill="#7fc7ea" stroke="#4a7f9a"/>
<circle class="ou" cx="571" cy="376.8" r="1.5"/>
<line class="ds" x1="589" y1="435.5" x2="601" y2="435.5"/>
<rect class="bx" x="612.5" y="426.3" width="13" height="2.2" fill="#3d5fae" stroke="#253f80"/>
<path class="wk" d="M643,423.3V430.8M639,423.3h8"/>
<rect class="bx" x="636.5" y="426.3" width="13" height="3.7" fill="#1b2a6b" stroke="#111"/>
<polyline class="crv" points="523,429.6 547,397 571,385 595,435.6 619,427 643,427"/>
<g class="xl">
<text transform="translate(522,447) scale(.78,1)">B</text>
<text transform="translate(545,447) scale(.78,1)">B6</text>
<text transform="translate(568,447) scale(.78,1)">B13</text>
<text transform="translate(593,447) scale(.78,1)">B16</text>
<text transform="translate(618.5,447) scale(.78,1)">B20</text>
<text transform="translate(643.5,447) scale(.78,1)">B24</text>
</g>
</svg>
<script>
(function(){
var ns='http://www.w3.org/2000/svg';
var pls=document.querySelectorAll('polyline.crv');
for(var k=0;k<pls.length;k++){
  var pl=pls[k];
  var pts=pl.getAttribute('points').trim().split(/\s+/).map(function(p){return p.split(',').map(Number);});
  var d='M'+pts[0][0]+','+pts[0][1];
  for(var i=0;i<pts.length-1;i++){
    var p0=pts[i-1]||pts[i],p1=pts[i],p2=pts[i+1],p3=pts[i+2]||pts[i+1];
    var c1x=p1[0]+(p2[0]-p0[0])/6,c1y=p1[1]+(p2[1]-p0[1])/6;
    var c2x=p2[0]-(p3[0]-p1[0])/6,c2y=p2[1]-(p3[1]-p1[1])/6;
    d+=' C'+c1x.toFixed(2)+','+c1y.toFixed(2)+' '+c2x.toFixed(2)+','+c2y.toFixed(2)+' '+p2[0]+','+p2[1];
  }
  var path=document.createElementNS(ns,'path');
  path.setAttribute('d',d);path.setAttribute('class','crv');
  pl.parentNode.replaceChild(path,pl);
}
})();
</script>
</body></html>
